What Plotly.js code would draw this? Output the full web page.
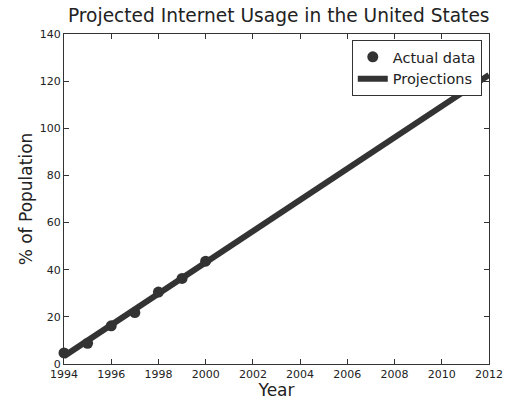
<!DOCTYPE html>
<html>
<head>
<meta charset="utf-8">
<script src="https://cdn.plot.ly/plotly-3.0.1.min.js"></script>
<style>html,body{margin:0;padding:0;background:#fff;}#chart{width:505px;height:400px;}</style>
</head>
<body>
<div id="chart"></div>
<script>
const years = [1994, 1995, 1996, 1997, 1998, 1999, 2000];
const usage = [4.7, 8.8, 16.2, 21.8, 30.5, 36.3, 43.6];
const projYears = [1994, 2012];
const projUsage = [3.3, 122.6];
const xTicks = [1994, 1996, 1998, 2000, 2002, 2004, 2006, 2008, 2010, 2012];
const yTicks = [0, 20, 40, 60, 80, 100, 120, 140];

const font = 'DejaVu Sans, sans-serif';
const data = [
  {x: years, y: usage, mode: 'markers', name: 'Actual data',
   marker: {color: '#333333', size: 11}, cliponaxis: false},
  {x: projYears, y: projUsage, mode: 'lines', name: 'Projections',
   line: {color: '#333333', width: 6}}
];
const axisCommon = {
  showgrid: false, zeroline: false, showline: true, linecolor: '#333', linewidth: 1,
  mirror: 'ticks', ticks: 'inside', ticklen: 5, tickcolor: '#333',
  tickfont: {family: font, size: 11, color: '#222'}
};
const layout = {
  width: 505, height: 400,
  margin: {l: 64, r: 16, t: 34, b: 36},
  paper_bgcolor: '#fff', plot_bgcolor: '#fff',
  title: {text: 'Projected Internet Usage in the United States', font: {family: font, size: 18.6, color: '#222'},
          x: 0.552, xanchor: 'center', y: 0.977, yanchor: 'top'},
  xaxis: Object.assign({}, axisCommon, {range: [1994, 2012], tickvals: xTicks,
          title: {text: 'Year', font: {family: font, size: 17, color: '#222'}, standoff: 2}}),
  yaxis: Object.assign({}, axisCommon, {range: [0, 140], tickvals: yTicks,
          title: {text: '% of Population', font: {family: font, size: 17, color: '#222'}, standoff: 2}}),
  showlegend: true,
  legend: {x: 0.983, y: 0.982, xanchor: 'right', yanchor: 'top', bordercolor: '#333', borderwidth: 1,
           bgcolor: '#fff', font: {family: font, size: 14.5, color: '#222'}, tracegroupgap: 0, itemwidth: 30}
};
Plotly.newPlot('chart', data, layout, {displayModeBar: false, staticPlot: true});
</script>
</body>
</html>
